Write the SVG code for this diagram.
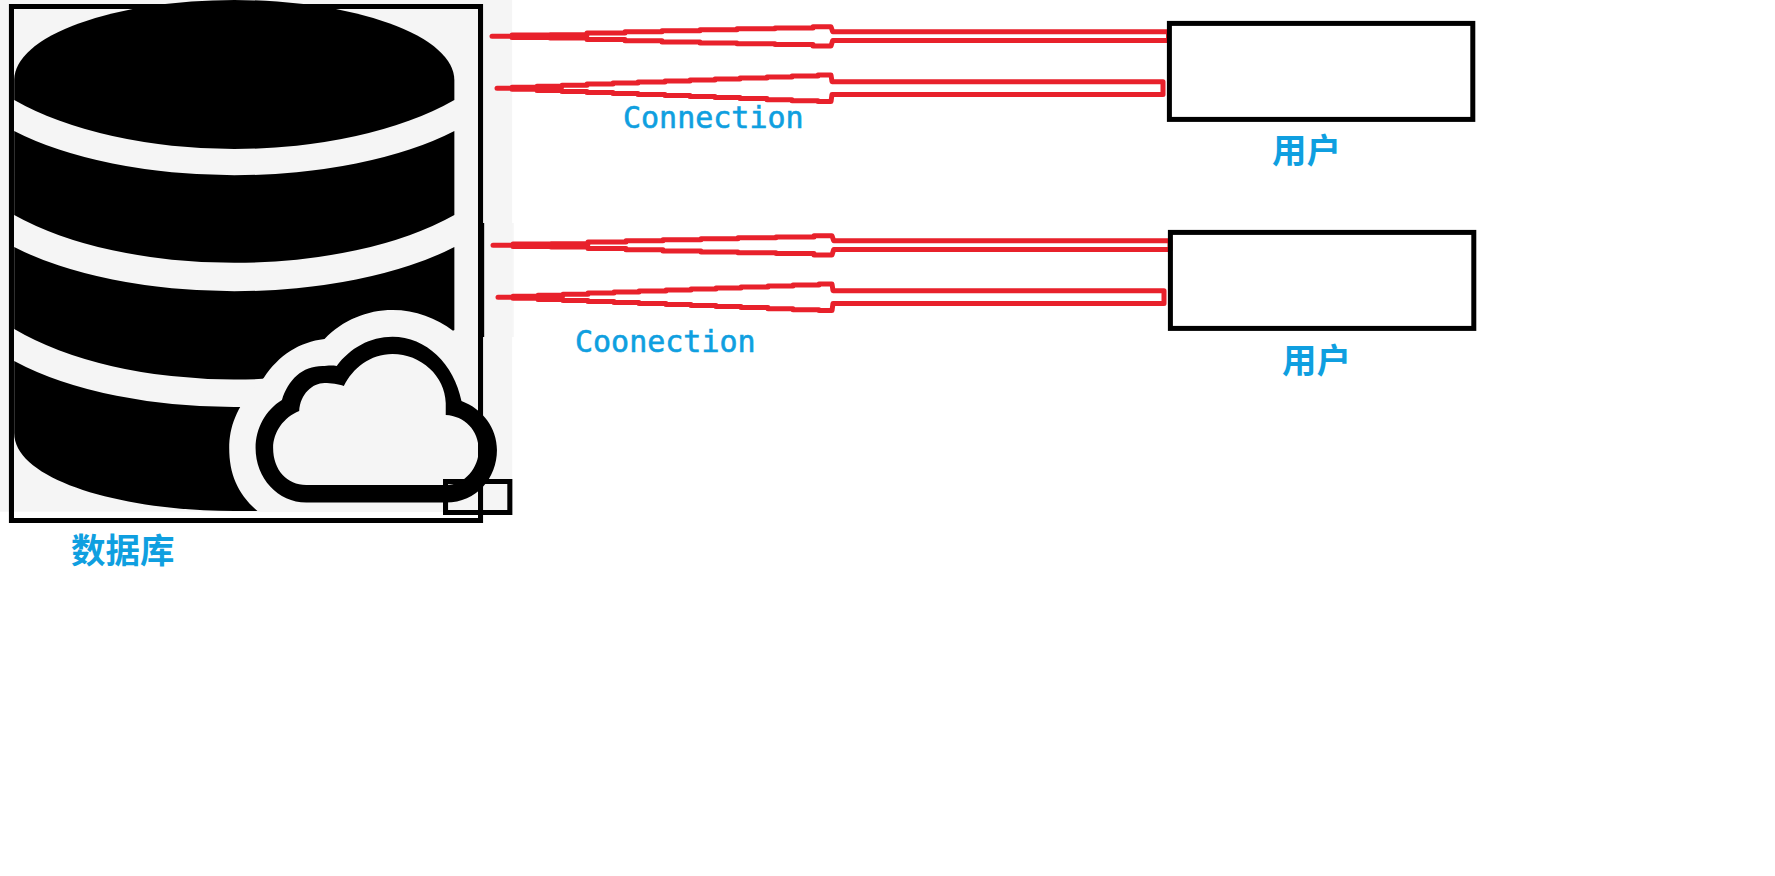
<svg xmlns="http://www.w3.org/2000/svg" width="1775" height="876" viewBox="0 0 1775 876">
<style>
.box{fill:none;stroke:#000;stroke-width:5}
.wire{fill:none;stroke:#e8212b;stroke-width:5;stroke-linejoin:round;stroke-linecap:round}
.mono{font-family:"DejaVu Sans Mono","Liberation Mono",monospace;font-size:30px;fill:#0f9fe0;stroke:#0f9fe0;stroke-width:.6}
.cjk{font-family:"Noto Sans CJK SC",sans-serif;font-size:34.5px;fill:#0f9fe0;font-weight:700}
.dark{fill:#000}
.pale{fill:#f5f5f5}
</style>
<rect width="1775" height="876" fill="#fff"/>
<g id="database">
<g transform="scale(1.0142 1)">
<rect class="pale" x="0" y="0" width="505" height="511.7"/>
<rect class="pale" x="505" y="223" width="1.5" height="114"/>
<path class="dark" d="M14 100V80A217 80 0 0 1 448 80V100A280 133 0 0 1 14 100Z"/>
<path class="dark" d="M14 131A280 120 0 0 0 448 131V215A280 130 0 0 1 14 215Z"/>
<path class="dark" d="M14 247A280 120 0 0 0 448 247V330A280 136 0 0 1 14 329Z"/>
<path class="dark" d="M14 361A280 125 0 0 0 240 407L275 511H231C120 511 14 480 14 433Z"/>
<path class="pale" d="M255 512C235 495 226 475 226 448C226 425 235 402 260 378C275 355 295 342 320 339C338 320 362 310 387 310C410 310 430 318 447 331L505 400V512Z"/>
<path class="dark" d="M302 502.5H440C470 502.5 490 478 490 450C490 428 476 409 455 401C448 364 420 336.7 387 336.7C365 336.7 345 348 332 366C326 365 322 366 318 366C298 366 284 380 278 400C262 410 252 428 252 448C252 478 274 502.5 302 502.5Z"/>
<path class="pale" d="M302 485H440C458 485 472 468 472 450C472 430 458 416 439.5 415V403C439 376 415 354 387 354C365 354 348 368 339 386C334 384 326 383 320 383C308 383 296 394 295 411C280 417 269.3 432 269.3 448C269.3 470 283 485 302 485Z"/>
<rect class="box" x="11.3" y="6.5" width="462.5" height="514"/>
<rect x="476" y="223" width="1.4" height="114" fill="#000"/>
<rect class="box" x="439.3" y="481.5" width="63.4" height="31"/>
</g>
<text class="cjk" x="71" y="563">数据库</text>
</g>
<g id="connectors">
<path id="c1" class="wire" d="M492 36.3H512V35H550V34.7H587V33H625V31.8H662V30.7H700V29.7H737V28.8H775V28H813V26.7H831L832.7 31.7H1168.5V40.5H832.7L831 45.9H813V44.6H775V43.8H737V42.9H700V41.9H662V40.8H625V39.6H587V37.9H550V37.6H512V36.3Z"/>
<path id="c2" class="wire" d="M497 88.3H512V87.3H537V86.2H562V85.2H587V84.1H613V83.1H638V82.1H665V81H690V80H715V79H740V78H767V76.9H792V75.9H818V75H831L832 81.7H1163V94.4H832L831 101.6H818V100.7H792V99.7H767V98.6H740V97.6H715V96.6H690V95.6H665V94.5H638V93.5H613V92.5H587V91.4H562V90.4H537V89.3H512V88.3Z"/>
<path id="c3" class="wire" transform="translate(1 209)" d="M492 36.3H512V35H550V34.7H587V33H625V31.8H662V30.7H700V29.7H737V28.8H775V28H813V26.7H831L832.7 31.7H1169V40.5H832.7L831 45.9H813V44.6H775V43.8H737V42.9H700V41.9H662V40.8H625V39.6H587V37.9H550V37.6H512V36.3Z"/>
<path id="c4" class="wire" transform="translate(1 209)" d="M497 88.3H512V87.3H537V86.2H562V85.2H587V84.1H613V83.1H638V82.1H665V81H690V80H715V79H740V78H767V76.9H792V75.9H818V75H831L832 81.7H1163V94.4H832L831 101.6H818V100.7H792V99.7H767V98.6H740V97.6H715V96.6H690V95.6H665V94.5H638V93.5H613V92.5H587V91.4H562V90.4H537V89.3H512V88.3Z"/>
</g>
<g id="user1">
<rect class="box" x="1169.4" y="23.4" width="303.4" height="96"/>
<text class="cjk" x="1272" y="163">用户</text>
</g>
<g id="user2">
<rect class="box" x="1170.4" y="232.4" width="303.4" height="96"/>
<text class="cjk" x="1282" y="373">用户</text>
</g>
<text id="label1" class="mono" x="623" y="128">Connection</text>
<text id="label2" class="mono" x="575" y="351.5">Coonection</text>
</svg>
